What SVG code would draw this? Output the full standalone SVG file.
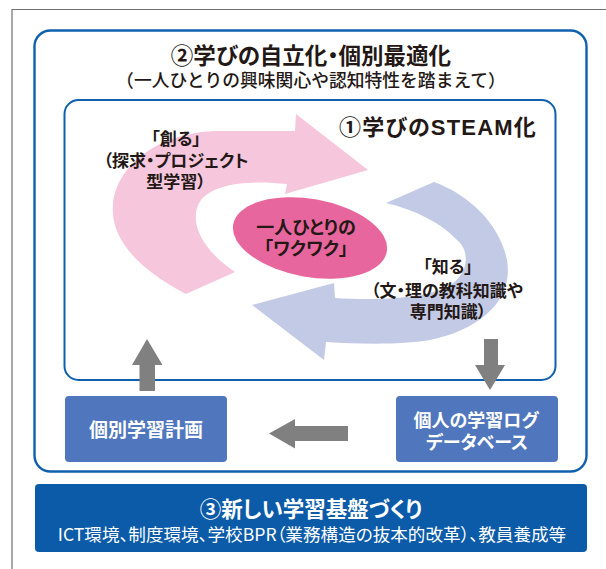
<svg xmlns="http://www.w3.org/2000/svg" width="606" height="569" viewBox="0 0 606 569">
<style>
.t{font-family:"Noto Sans CJK JP","Noto Sans",sans-serif;fill:#231815;text-anchor:middle;font-feature-settings:"palt" 1}
.np{font-feature-settings:normal}
.b{font-weight:bold}
.m{font-weight:500}
.w{fill:#ffffff}
.lat{font-family:"Liberation Sans",Arial,sans-serif}
.frame{fill:none;stroke:#1060ae}
.box{fill:#5077bd}
.garrow{fill:#808080}
</style>
<rect x="0" y="0" width="606" height="569" fill="#ffffff"/>
<path d="M12,569 V9.5 H606" fill="none" stroke="#707070" stroke-width="1.2"/>
<g id="outer">
<rect class="frame" x="34.5" y="30.5" width="552" height="441" rx="16" stroke-width="2.4" fill="#ffffff"/>
<text class="t b" x="311" y="64" font-size="22.5">②学びの自立化・個別最適化</text>
<text class="t m np" x="311" y="87" font-size="17.8">（一人ひとりの興味関心や認知特性を踏まえて）</text>
</g>
<g id="inner">
<rect class="frame" x="64.5" y="100" width="491" height="280" rx="14" stroke-width="2" fill="#ffffff"/>
<text class="t b" x="438" y="135" font-size="22" letter-spacing="1.2">①学びの<tspan class="lat">STEAM</tspan>化</text>
</g>
<g id="create">
<path d="M296,114 L368,170 L285,194 L287,184 C250,180 215,183 201,200 C189,216 196,246 235,272 L186,294 C140,270 110,240 113,205 C116,165 160,131 220,131 L295,131 Z" fill="#f5c6dc"/>
<text class="t b" x="176" y="145" font-size="17">「創る」</text>
<text class="t b" x="176" y="167" font-size="17">（探求・プロジェクト</text>
<text class="t b" x="176" y="188" font-size="17">型学習）</text>
</g>
<g id="know">
<path d="M386,203 L434,182 C470,195 500,225 507,260 C514,300 480,330 430,340 C400,345 360,344 326,342 L324,360 L252,305 L334,283 L335,298 C370,300 420,300 447,287 C470,275 470,250 457,240 C440,222 415,210 386,203 Z" fill="#c3cae6"/>
<text class="t b" x="448" y="273" font-size="17">「知る」</text>
<text class="t b" x="447" y="297" font-size="17">（文・理の教科知識や</text>
<text class="t b" x="448" y="318" font-size="17">専門知識）</text>
</g>
<g id="center">
<ellipse cx="310" cy="238" rx="78" ry="39" transform="rotate(10 310 238)" fill="#e8669e"/>
<text class="t b" x="306" y="234" font-size="18">一人ひとりの</text>
<text class="t b" x="306" y="255" font-size="18">「ワクワク」</text>
</g>
<g id="plan">
<rect class="box" x="65" y="396" width="162" height="66" rx="4"/>
<text class="t b w" x="146" y="437" font-size="19">個別学習計画</text>
</g>
<g id="log">
<rect class="box" x="396" y="396" width="162" height="66" rx="4"/>
<text class="t b w" x="476" y="427" font-size="18">個人の学習ログ</text>
<text class="t b w" x="477" y="449" font-size="18">データベース</text>
</g>
<g id="foundation">
<rect x="35" y="484" width="552" height="68" rx="4" fill="#0b5ba9"/>
<text class="t b w" x="311" y="517" font-size="21.5">③新しい学習基盤づくり</text>
<text class="t w" x="312" y="541" font-size="17.6">ICT環境、制度環境、学校BPR（業務構造の抜本的改革）、教員養成等</text>
</g>
<g id="connectors">
<polygon class="garrow" points="139.5,391 155,391 155,365 162.5,365 147,339 132,365 139.5,365"/>
<polygon class="garrow" points="484,339 498,339 498,365 505,365 490,390 475,365 484,365"/>
<polygon class="garrow" points="348,426 295,426 295,419 269,433.5 295,448.5 295,441 348,441"/>
</g>
</svg>
